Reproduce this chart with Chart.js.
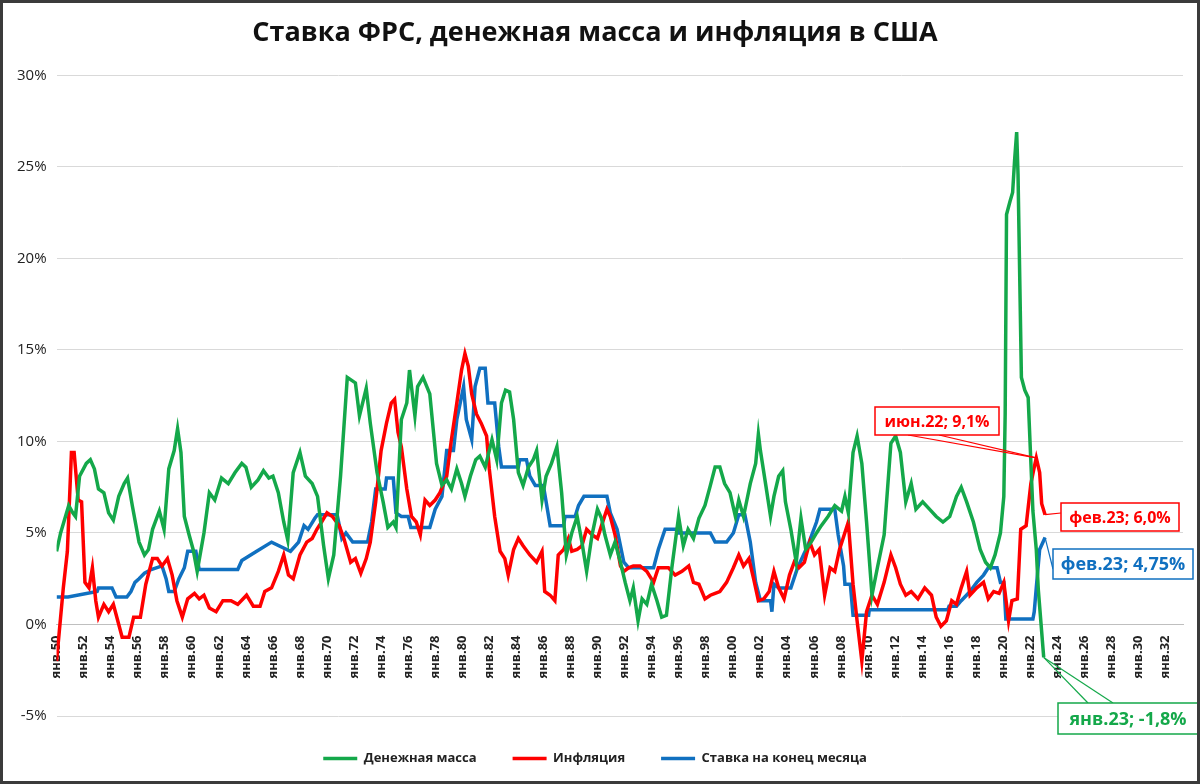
<!DOCTYPE html>
<html lang="ru">
<head>
<meta charset="UTF-8">
<title>Ставка ФРС, денежная масса и инфляция в США</title>
<style>
  html, body { margin: 0; padding: 0; background: #fff; }
  .wrap { width: 1194px; height: 778px; border: 3px solid #3b3b3b; position: relative; }
  canvas { display: block; }
</style>
</head>
<body>
<div class="wrap"><canvas id="c" width="1194" height="778"></canvas></div>
<script src="https://cdn.jsdelivr.net/npm/chart.js@4.4.0/dist/chart.umd.min.js"></script>
<script>
// Денежная масса (M2, г/г), %
const moneyT = [1950.0,1950.3,1950.9,1951.2,1951.4,1951.7,1952.2,1952.5,1952.8,1953.1,1953.5,1953.85,1954.2,1954.6,1955.0,1955.25,1955.6,1956.1,1956.5,1956.8,1957.1,1957.6,1957.95,1958.3,1958.7,1958.95,1959.2,1959.45,1959.8,1960.1,1960.4,1960.9,1961.3,1961.7,1962.2,1962.7,1963.2,1963.7,1964.0,1964.4,1964.9,1965.3,1965.7,1966.0,1966.4,1966.8,1967.1,1967.5,1968.0,1968.4,1968.9,1969.3,1969.75,1970.1,1970.5,1971.0,1971.5,1972.1,1972.4,1972.9,1973.2,1973.7,1974.15,1974.5,1974.9,1975.1,1975.5,1975.9,1976.1,1976.5,1976.7,1977.1,1977.6,1978.1,1978.5,1978.85,1979.2,1979.6,1979.95,1980.2,1980.6,1981.0,1981.3,1981.7,1982.2,1982.55,1982.9,1983.2,1983.5,1983.8,1984.15,1984.5,1984.9,1985.25,1985.5,1985.9,1986.2,1986.6,1987.0,1987.35,1987.7,1988.1,1988.5,1988.85,1989.2,1989.6,1990.0,1990.3,1990.55,1990.95,1991.3,1991.7,1992.05,1992.4,1992.65,1993.0,1993.3,1993.65,1994.0,1994.4,1994.75,1995.1,1995.5,1996.0,1996.35,1996.7,1997.1,1997.5,1997.95,1998.35,1998.7,1999.05,1999.4,1999.8,2000.2,2000.45,2000.8,2001.3,2001.7,2001.9,2002.05,2002.45,2002.8,2003.05,2003.4,2003.7,2003.9,2004.3,2004.7,2005.05,2005.4,2005.8,2006.2,2006.55,2007.05,2007.55,2008.05,2008.3,2008.55,2008.9,2009.2,2009.55,2009.9,2010.3,2010.7,2011.2,2011.7,2012.05,2012.4,2012.8,2013.2,2013.55,2014.05,2014.55,2015.05,2015.55,2016.05,2016.55,2016.9,2017.3,2017.8,2018.3,2018.7,2019.05,2019.4,2019.8,2020.05,2020.15,2020.25,2020.5,2020.7,2020.85,2021.0,2021.1,2021.35,2021.6,2021.85,2022.2,2022.45,2022.6,2023.0];
const moneyV = [4.0,5.0,6.5,6.1,5.9,8.1,8.8,9.0,8.5,7.4,7.2,6.1,5.7,7.0,7.7,8.0,6.5,4.5,3.8,4.1,5.2,6.2,5.2,8.5,9.5,10.7,9.4,5.9,4.9,4.1,2.9,5.0,7.2,6.8,8.0,7.7,8.3,8.8,8.6,7.5,7.9,8.4,8.0,8.1,7.2,5.6,4.6,8.3,9.4,8.1,7.7,7.0,4.3,2.5,3.8,8.1,13.5,13.2,11.4,12.9,11.0,8.3,6.7,5.3,5.6,5.3,11.2,12.1,13.9,11.4,13.0,13.5,12.6,8.8,7.6,7.9,7.4,8.5,7.7,7.0,8.1,9.0,9.2,8.6,10.1,9.0,12.1,12.8,12.7,11.2,8.3,7.6,8.6,9.0,9.5,6.8,8.1,8.8,9.7,7.2,3.8,5.0,5.9,4.5,2.9,4.9,6.3,5.8,4.9,3.8,4.5,3.4,2.3,1.3,2.0,0.2,1.4,1.1,2.2,1.3,0.4,0.5,3.1,5.9,4.3,5.2,4.7,5.8,6.5,7.6,8.6,8.6,7.7,7.2,5.9,6.8,5.9,7.7,8.8,10.4,9.5,7.6,5.9,7.0,8.1,8.4,6.7,5.2,3.4,5.8,4.1,4.5,5.0,5.4,5.9,6.5,6.2,7.0,6.1,9.4,10.3,8.8,5.6,1.6,3.1,4.9,9.9,10.3,9.4,6.7,7.7,6.3,6.7,6.3,5.9,5.6,5.9,7.0,7.5,6.7,5.6,4.1,3.4,3.1,3.8,5.0,7.0,11.5,22.4,23.1,23.6,25.4,26.9,24.6,13.5,12.8,12.4,6.2,4.1,1.9,-1.8];

// Инфляция (CPI, г/г), %
const inflT = [1950.0,1950.2,1950.5,1950.8,1951.1,1951.3,1951.6,1951.85,1952.1,1952.4,1952.65,1952.9,1953.1,1953.5,1953.85,1954.2,1954.6,1954.85,1955.35,1955.7,1956.2,1956.6,1957.1,1957.45,1957.8,1958.2,1958.55,1958.9,1959.3,1959.7,1960.2,1960.55,1960.9,1961.3,1961.8,1962.3,1962.9,1963.4,1964.05,1964.55,1965.05,1965.4,1965.9,1966.4,1966.8,1967.15,1967.5,1968.0,1968.5,1968.9,1969.25,1969.6,1970.0,1970.4,1970.9,1971.25,1971.75,1972.1,1972.5,1972.9,1973.2,1973.6,1974.0,1974.4,1974.75,1975.0,1975.25,1975.5,1975.9,1976.25,1976.6,1976.9,1977.25,1977.6,1978.0,1978.35,1978.85,1979.2,1979.6,1979.95,1980.2,1980.45,1980.7,1981.05,1981.4,1981.8,1982.0,1982.4,1982.8,1983.15,1983.4,1983.8,1984.15,1984.5,1985.0,1985.5,1985.9,1986.1,1986.5,1986.85,1987.1,1987.5,1987.85,1988.1,1988.5,1988.85,1989.2,1989.6,1990.0,1990.3,1990.7,1990.95,1991.3,1991.7,1991.95,1992.3,1992.65,1993.15,1993.65,1994.15,1994.5,1994.9,1995.25,1995.75,1996.25,1996.75,1997.1,1997.5,1997.95,1998.35,1998.7,1999.05,1999.55,2000.05,2000.45,2000.8,2001.2,2001.55,2001.9,2002.3,2002.7,2003.05,2003.4,2003.8,2004.2,2004.55,2004.9,2005.3,2005.7,2006.05,2006.4,2006.8,2007.2,2007.55,2007.9,2008.55,2008.9,2009.2,2009.55,2009.9,2010.3,2010.7,2011.2,2011.7,2012.05,2012.4,2012.8,2013.2,2013.7,2014.2,2014.7,2015.05,2015.4,2015.8,2016.2,2016.55,2016.9,2017.3,2017.55,2018.05,2018.55,2018.9,2019.3,2019.7,2020.05,2020.4,2020.65,2021.05,2021.3,2021.7,2022.05,2022.3,2022.45,2022.7,2022.85,2023.1];
const inflV = [-2.0,-0.4,2.0,4.0,9.4,9.4,6.8,6.7,2.3,2.0,3.1,1.3,0.4,1.1,0.7,1.1,0.0,-0.7,-0.7,0.4,0.4,2.2,3.6,3.6,3.2,3.6,2.7,1.3,0.4,1.4,1.7,1.4,1.6,0.9,0.7,1.3,1.3,1.1,1.6,1.0,1.0,1.8,2.0,2.9,3.8,2.7,2.5,3.8,4.5,4.7,5.2,5.6,6.1,5.9,5.4,4.7,3.4,3.6,2.8,3.6,4.5,6.7,9.5,11.0,12.1,12.3,10.5,9.7,7.4,5.9,5.6,4.9,6.8,6.5,6.8,7.2,8.1,10.1,12.1,13.9,14.8,14.1,12.6,11.5,11.0,10.3,8.5,5.9,4.0,3.6,2.7,4.1,4.7,4.3,3.8,3.4,4.0,1.8,1.6,1.3,3.8,4.1,4.7,4.0,4.1,4.3,5.2,4.9,4.7,5.4,6.3,5.9,4.9,3.2,2.9,3.1,3.2,3.2,2.9,2.3,3.1,3.1,3.1,2.7,2.9,3.2,2.3,2.2,1.4,1.6,1.7,1.8,2.3,3.1,3.8,3.2,3.6,2.5,1.3,1.4,1.8,2.9,2.0,1.4,2.7,3.4,3.1,3.4,4.5,3.8,4.1,1.6,3.1,2.9,4.1,5.6,2.2,0.2,-2.0,0.7,1.6,1.1,2.3,3.8,3.1,2.2,1.6,1.8,1.4,2.0,1.6,0.4,-0.1,0.2,1.3,1.1,2.0,2.9,1.6,2.0,2.3,1.4,1.8,1.7,2.3,0.2,1.3,1.4,5.2,5.4,7.7,8.6,9.1,8.3,6.6,6.0];

// Ставка ФРС на конец месяца, %
const rateT = [1950.0,1950.85,1953.0,1953.1,1954.1,1954.4,1955.2,1955.5,1955.8,1956.1,1956.5,1957.0,1957.8,1958.1,1958.3,1958.7,1959.05,1959.45,1959.7,1960.3,1960.55,1963.4,1963.7,1964.8,1965.9,1967.3,1967.9,1968.3,1968.6,1969.1,1969.3,1970.75,1971.1,1971.4,1971.9,1973.0,1973.3,1973.6,1974.3,1974.4,1974.9,1975.1,1975.5,1976.0,1976.2,1977.6,1978.0,1978.5,1978.85,1979.35,1979.6,1980.1,1980.3,1980.7,1980.95,1981.3,1981.7,1981.9,1982.4,1982.7,1982.9,1984.15,1984.25,1984.75,1985.0,1985.4,1986.0,1986.5,1987.5,1987.6,1988.35,1988.6,1989.0,1990.7,1990.95,1991.45,1991.95,1992.3,1994.15,1994.5,1995.0,1995.9,1996.0,1998.35,1998.7,1999.55,2000.05,2000.45,2000.9,2001.3,2001.7,2002.05,2002.8,2002.9,2003.05,2003.4,2004.3,2004.8,2005.55,2006.2,2006.45,2007.55,2007.8,2008.2,2008.3,2008.7,2008.9,2010.05,2010.1,2015.9,2016.0,2016.55,2016.9,2017.55,2018.05,2018.55,2018.9,2019.55,2019.8,2020.05,2020.2,2022.2,2022.3,2022.45,2022.7,2023.1];
const rateV = [1.5,1.5,1.8,2.0,2.0,1.5,1.5,1.8,2.3,2.5,2.8,3.0,3.2,2.5,1.8,1.8,2.5,3.1,4.0,4.0,3.0,3.0,3.5,4.0,4.5,4.0,4.5,5.4,5.2,5.8,6.0,6.0,4.7,5.0,4.5,4.5,5.6,7.4,7.4,8.0,8.0,6.1,5.9,5.9,5.3,5.3,6.3,7.0,9.5,9.5,11.2,13.0,11.2,10.1,13.0,14.0,14.0,12.1,12.1,9.7,8.6,8.6,9.0,9.0,8.1,7.6,7.6,5.4,5.4,5.9,5.9,6.5,7.0,7.0,6.1,5.2,3.4,3.1,3.1,4.1,5.2,5.2,5.0,5.0,4.5,4.5,5.0,6.0,6.0,4.5,2.3,1.3,1.3,0.7,2.2,2.0,2.0,3.1,4.3,5.6,6.3,6.3,4.9,3.2,2.2,2.2,0.5,0.5,0.8,0.8,1.0,1.0,1.3,1.8,2.3,2.7,3.1,3.1,2.3,2.3,0.3,0.3,0.7,2.0,4.1,4.75];

const xTickYears = [1950,1952,1954,1956,1958,1960,1962,1964,1966,1968,1970,1972,1974,1976,1978,1980,1982,1984,1986,1988,1990,1992,1994,1996,1998,2000,2002,2004,2006,2008,2010,2012,2014,2016,2018,2020,2022,2024,2026,2028,2030,2032];

const GREEN = '#14a84a', RED = '#ff0000', BLUE = '#1070c0';
const pts = (t, v) => t.map((x, i) => ({ x: x, y: v[i] }));

// callouts: series index, point year, label, box position
const callouts = [
  { ds: 1, x: 2022.45, text: 'июн.22; 9,1%', color: RED, box: [872, 404, 124, 28], font: 'bold 16px "Open Sans"', anchor: [[905, 432], [936, 432]] },
  { ds: 1, x: 2023.1, text: 'фев.23; 6,0%', color: RED, box: [1058, 500, 118, 28], font: 'bold 16px "Open Sans"', anchor: [[1058, 510]] },
  { ds: 2, x: 2023.1, text: 'фев.23; 4,75%', color: BLUE, box: [1050, 546, 140, 30], font: 'bold 18px "Open Sans"', anchor: [[1050, 566]] },
  { ds: 0, x: 2023.0, text: 'янв.23; -1,8%', color: GREEN, box: [1055, 700, 140, 31], font: 'bold 18px "Open Sans"', anchor: [[1110, 700], [1085, 700]] }
];

const calloutPlugin = {
  id: 'callouts',
  afterDatasetsDraw(chart) {
    const c = chart.ctx, xs = chart.scales.x, ys = chart.scales.y;
    callouts.forEach(o => {
      const ds = chart.data.datasets[o.ds].data;
      const p = ds.find(d => Math.abs(d.x - o.x) < 0.01);
      const px = xs.getPixelForValue(p.x), py = ys.getPixelForValue(p.y);
      const [bx, by, bw, bh] = o.box;
      c.save();
      c.strokeStyle = o.color;
      c.lineWidth = 1.2;
      o.anchor.forEach(a => {
        c.beginPath(); c.moveTo(a[0], a[1]); c.lineTo(px, py); c.stroke();
      });
      c.fillStyle = '#fff';
      c.fillRect(bx, by, bw, bh);
      c.lineWidth = 1.5;
      c.strokeRect(bx, by, bw, bh);
      c.fillStyle = o.color;
      c.font = o.font;
      c.textAlign = 'center';
      c.textBaseline = 'middle';
      c.fillText(o.text, bx + bw / 2, by + bh / 2 + 1);
      c.restore();
    });
  }
};

new Chart(document.getElementById('c'), {
  type: 'line',
  data: {
    datasets: [
      { label: 'Денежная масса', data: pts(moneyT, moneyV), borderColor: GREEN, backgroundColor: GREEN, borderWidth: 3.5 },
      { label: 'Инфляция', data: pts(inflT, inflV), borderColor: RED, backgroundColor: RED, borderWidth: 3.5 },
      { label: 'Ставка на конец месяца', data: pts(rateT, rateV), borderColor: BLUE, backgroundColor: BLUE, borderWidth: 3.5 }
    ]
  },
  options: {
    responsive: false,
    animation: false,
    parsing: false,
    layout: { padding: { left: 4, right: 14, top: 6, bottom: 6 } },
    elements: { point: { radius: 0 }, line: { tension: 0 } },
    scales: {
      x: {
        type: 'linear',
        position: { y: 0 },
        min: 1950,
        max: 2033.3,
        afterBuildTicks: s => { s.ticks = xTickYears.map(v => ({ value: v })); },
        ticks: {
          autoSkip: false,
          minRotation: 90,
          maxRotation: 90,
          color: '#222',
          font: { family: 'Open Sans', size: 13, weight: 'bold' },
          callback: v => 'янв.' + String(v % 100).padStart(2, '0')
        },
        grid: { display: false },
        border: { color: '#bfbfbf' }
      },
      y: {
        min: -5,
        max: 30,
        ticks: {
          stepSize: 5,
          color: '#222',
          padding: 10,
          font: { family: 'Open Sans', size: 15 },
          callback: v => v + '%'
        },
        grid: { color: '#d9d9d9', drawTicks: false },
        border: { display: false }
      }
    },
    plugins: {
      title: {
        display: true,
        text: 'Ставка ФРС, денежная масса и инфляция в США',
        color: '#111',
        font: { family: 'Open Sans', size: 27, weight: 'bold' },
        padding: { top: 8, bottom: 26 }
      },
      legend: {
        position: 'bottom',
        labels: {
          usePointStyle: true,
          pointStyle: 'line',
          pointStyleWidth: 34,
          padding: 36,
          color: '#222',
          font: { family: 'Open Sans', size: 13, weight: 'bold' }
        }
      },
      tooltip: { enabled: false }
    }
  },
  plugins: [calloutPlugin]
});
</script>
</body>
</html>
